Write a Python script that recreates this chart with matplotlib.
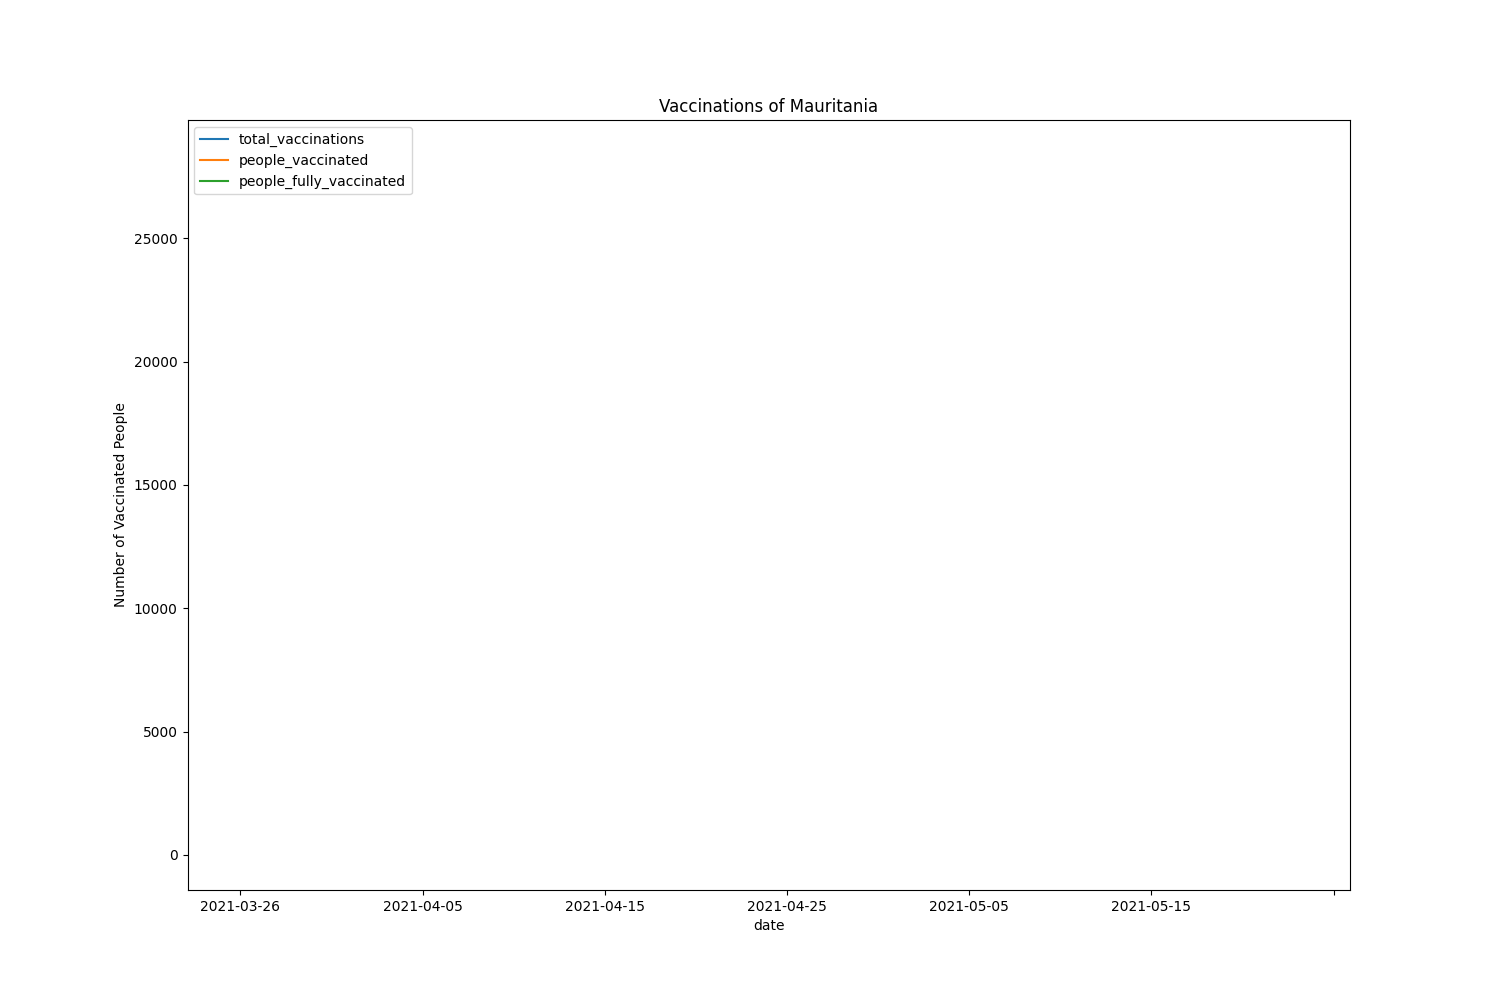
import matplotlib
matplotlib.use("Agg")
import matplotlib.pyplot as plt
import numpy as np
import pandas as pd

# sparse reports: NaN gaps between points, so no line segments get drawn
dates = ["2021-03-26", "2021-04-24", "2021-05-23"]
total_vaccinations = [0, np.nan, 28370]
people_vaccinated = [np.nan, np.nan, 28370]
people_fully_vaccinated = [np.nan, np.nan, np.nan]

tick_dates = ["2021-03-26", "2021-04-05", "2021-04-15", "2021-04-25",
              "2021-05-05", "2021-05-15", "2021-05-25"]
tick_labels = ["2021-03-26", "2021-04-05", "2021-04-15", "2021-04-25",
               "2021-05-05", "2021-05-15", ""]

x = pd.to_datetime(dates)

fig, ax = plt.subplots(figsize=(15, 10), dpi=100)
ax.plot(x, total_vaccinations, label="total_vaccinations")
ax.plot(x, people_vaccinated, label="people_vaccinated")
ax.plot(x, people_fully_vaccinated, label="people_fully_vaccinated")

ax.set_xticks(pd.to_datetime(tick_dates))
ax.set_xticklabels(tick_labels)

ax.set_xlabel("date")
ax.set_ylabel("Number of Vaccinated People")
ax.set_title("Vaccinations of Mauritania")
ax.legend(loc="upper left")

plt.savefig("out.png", dpi=100)
